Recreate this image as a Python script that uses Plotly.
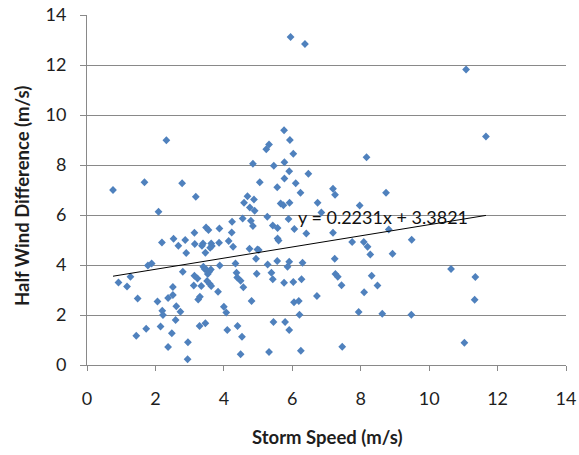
import plotly.graph_objects as go

storm_speed = [
    5.95, 6.37, 2.32, 5.76, 5.93, 5.32, 5.24, 6.03, 4.85, 5.46, 5.77, 5.91, 6.47, 5.77, 6.10, 5.05, 5.56, 1.68, 2.78, 0.76,
    11.08, 11.66, 8.17, 7.19,
    3.18, 2.09, 4.69, 4.88, 4.59, 4.76, 4.90, 6.24, 5.66, 5.74, 5.92, 5.27, 5.89, 6.74, 4.55, 4.24, 4.79, 4.85, 5.43, 5.57,
    6.06, 6.41, 5.57, 5.60, 3.14, 3.48, 3.55, 3.87, 4.23, 2.19, 2.53, 2.67, 2.87, 2.90, 3.15, 3.39, 3.36, 3.46, 3.63, 3.65,
    3.60, 3.86, 4.14, 4.27, 4.75, 4.98, 5.02, 4.94, 4.34, 5.28, 5.56, 5.86, 5.91, 6.30, 1.78, 1.89, 2.80, 3.40, 3.44, 3.50,
    3.57, 3.62, 3.53, 3.88, 0.92, 1.27, 1.17, 3.14, 3.23, 3.12, 3.34, 3.51, 3.59, 3.63, 4.37, 4.39, 4.49, 4.57, 4.96, 5.39,
    5.43, 5.76, 6.03, 6.27, 2.51, 2.51, 2.37, 1.48, 2.06, 2.20, 2.22, 2.61, 2.73, 2.59, 3.25, 3.30, 3.83, 4.00, 4.07, 4.81,
    6.05, 6.19, 6.21, 6.72, 1.73, 1.44, 2.15, 2.48, 2.37, 2.95, 2.94, 3.29, 3.46, 4.10, 4.40, 4.53, 4.49, 5.45, 5.79, 5.91,
    5.32, 6.25,
    7.25, 8.74, 7.97, 6.85, 7.19, 8.82, 7.75, 8.09, 8.20, 8.28, 8.93, 9.49, 7.24, 7.26, 7.33, 7.44, 8.32, 8.49, 8.10, 10.64,
    11.35, 11.33, 7.94, 8.63, 9.48, 7.46, 11.03,
]

half_wind_diff = [
    13.12, 12.84, 8.99, 9.39, 9.00, 8.82, 8.63, 8.45, 8.05, 7.97, 8.11, 7.75, 7.65, 7.46, 7.27, 7.31, 7.11, 7.31, 7.27, 7.00,
    11.82, 9.14, 8.31, 7.05,
    6.73, 6.13, 6.75, 6.62, 6.49, 6.30, 6.17, 6.89, 6.46, 6.39, 6.49, 5.93, 5.84, 6.49, 5.86, 5.73, 5.77, 5.56, 5.58, 5.48,
    5.44, 5.26, 5.06, 4.98, 5.29, 5.50, 5.40, 5.46, 5.30, 4.90, 5.05, 4.77, 5.00, 4.48, 4.84, 4.86, 4.77, 4.49, 4.86, 4.76,
    4.69, 4.89, 4.96, 4.73, 4.65, 4.62, 4.60, 4.25, 4.06, 4.02, 4.16, 3.93, 4.13, 4.09, 3.98, 4.06, 3.73, 3.93, 3.84, 3.80,
    3.73, 3.82, 3.64, 3.98, 3.30, 3.53, 3.14, 3.57, 3.46, 3.18, 3.16, 3.36, 3.24, 3.16, 3.69, 3.50, 3.37, 3.11, 3.65, 3.69,
    3.43, 3.29, 3.32, 3.43, 3.12, 2.80, 2.68, 2.66, 2.54, 2.17, 2.00, 2.35, 2.13, 1.80, 2.62, 2.73, 2.93, 2.33, 2.10, 2.56,
    2.51, 2.56, 2.01, 2.76, 1.45, 1.17, 1.54, 1.27, 0.72, 0.91, 0.23, 1.56, 1.67, 1.40, 1.56, 1.13, 0.43, 1.72, 1.72, 1.40,
    0.52, 0.57,
    6.81, 6.89, 6.38, 6.10, 5.29, 5.42, 4.92, 4.92, 4.73, 4.42, 4.45, 5.01, 4.25, 3.64, 3.53, 3.19, 3.57, 3.18, 2.91, 3.84,
    3.52, 2.61, 2.12, 2.05, 2.01, 0.73, 0.89,
]

slope = 0.2231
intercept = 3.3821
equation_label = "y = 0.2231x + 3.3821"
x_title = "Storm Speed (m/s)"
y_title = "Half Wind Difference (m/s)"
x_ticks = [0, 2, 4, 6, 8, 10, 12, 14]
y_ticks = [0, 2, 4, 6, 8, 10, 12, 14]

x_min, x_max = min(storm_speed), max(storm_speed)
trend_x = [x_min, x_max]
trend_y = [slope * v + intercept for v in trend_x]

FONT = "Lato, 'Open Sans', sans-serif"
GRID = "#898989"
TXT = "#1e1e1e"

fig = go.Figure()
fig.add_trace(go.Scatter(
    x=storm_speed, y=half_wind_diff, mode="markers",
    marker=dict(symbol="diamond", size=6, color="#4F81BD"),
    showlegend=False, hoverinfo="x+y",
))
fig.add_trace(go.Scatter(
    x=trend_x, y=trend_y, mode="lines",
    line=dict(color="#000000", width=1),
    showlegend=False, hoverinfo="skip",
))

fig.add_annotation(
    x=8.66, y=5.91, xref="x", yref="y", text=equation_label, showarrow=False,
    xanchor="center", yanchor="middle",
    font=dict(family=FONT, size=18, color="#111111"),
)
fig.add_annotation(
    x=0.5, y=0, xref="paper", yref="paper", yshift=-72,
    text="<b>" + x_title + "</b>", showarrow=False,
    xanchor="center", yanchor="middle",
    font=dict(family=FONT, size=18.5, color=TXT),
)
fig.add_annotation(
    x=0, y=0.483, xref="paper", yref="paper", xshift=-65, textangle=-90,
    text="<b>" + y_title + "</b>", showarrow=False,
    xanchor="center", yanchor="middle",
    font=dict(family=FONT, size=18.5, color=TXT),
)

fig.update_layout(
    width=579, height=455,
    margin=dict(l=87, r=13, t=15, b=90, autoexpand=False),
    paper_bgcolor="white", plot_bgcolor="white",
    font=dict(family=FONT, size=18, color=TXT),
    xaxis=dict(
        range=[0, 14], tickvals=x_ticks, showgrid=False, zeroline=False,
        showline=True, linecolor=GRID, linewidth=1, automargin=False,
        ticks="outside", ticklen=5, tickcolor=GRID, ticklabelstandoff=12,
        tickfont=dict(family=FONT, size=18, color=TXT),
    ),
    yaxis=dict(
        range=[0, 14], tickvals=y_ticks, showgrid=True, gridcolor=GRID, gridwidth=1,
        zeroline=False, showline=True, linecolor=GRID, linewidth=1, automargin=False,
        ticks="outside", ticklen=6, tickcolor=GRID, ticklabelstandoff=10,
        tickfont=dict(family=FONT, size=18, color=TXT),
    ),
)

fig.write_html("out.html")
